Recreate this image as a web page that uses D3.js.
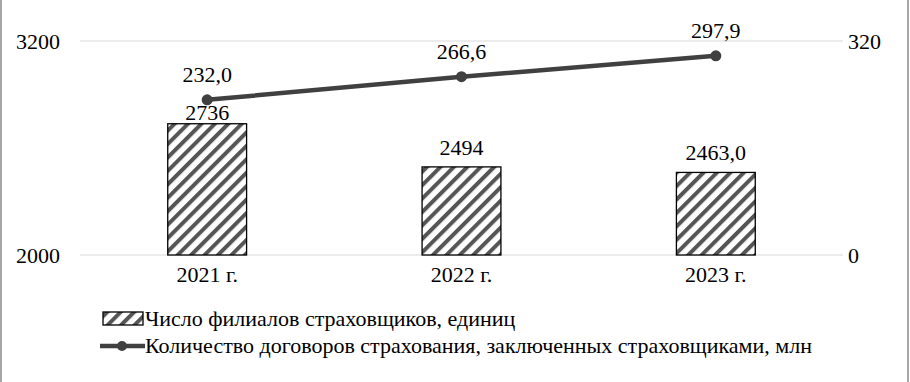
<!DOCTYPE html>
<html>
<head>
<meta charset="utf-8">
<script src="https://cdn.jsdelivr.net/npm/d3@7"></script>
<style>
  body { margin: 0; background: #fff; }
  svg { display: block; }
</style>
</head>
<body>
<div class="canvas"></div>
<script>
// data
const years = ['2021 г.', '2022 г.', '2023 г.'];
const branches = [2736, 2494, 2463.0];
const branchLabels = ['2736', '2494', '2463,0'];
const contracts = [232.0, 266.6, 297.9];
const contractLabels = ['232,0', '266,6', '297,9'];
const leftTicks = [2000, 3200];
const rightTicks = [0, 320];
const legendNames = [
  'Число филиалов страховщиков, единиц',
  'Количество договоров страхования, заключенных страховщиками, млн',
];

const dims = {
  width: 910,
  height: 382,
  left: 80,
  right: 843,
  top: 41,
  bottom: 255,
  fontFamily: '"Liberation Serif", "Times New Roman", serif',
  fontSize: '22px',
};

const svg = d3
  .select('.canvas')
  .append('svg')
  .attr('width', dims.width)
  .attr('height', dims.height);

// hatch pattern
const defs = svg.append('defs');
const pattern = defs
  .append('pattern')
  .attr('id', 'hatch')
  .attr('patternUnits', 'userSpaceOnUse')
  .attr('width', 9.5)
  .attr('height', 9.5)
  .attr('patternTransform', 'rotate(45)');
pattern.append('rect').attr('width', 9.5).attr('height', 9.5).attr('fill', '#fff');
pattern
  .append('rect')
  .attr('x', 0)
  .attr('y', 0)
  .attr('width', 4)
  .attr('height', 9.5)
  .attr('fill', '#555');

// outer frame (left and right)
svg.append('line').attr('x1', 1).attr('x2', 1).attr('y1', 0).attr('y2', dims.height)
  .attr('stroke', '#888').attr('stroke-width', 1.5);
svg.append('line').attr('x1', 908).attr('x2', 908).attr('y1', 0).attr('y2', dims.height)
  .attr('stroke', '#888').attr('stroke-width', 1.5);

// scales
const x = d3
  .scaleBand()
  .domain(years)
  .range([dims.left, dims.right])
  .paddingInner(0.69)
  .paddingOuter(0.345);

const yLeft = d3.scaleLinear().domain([2000, 3200]).range([dims.bottom, dims.top]);
const yRight = d3.scaleLinear().domain([0, 320]).range([dims.bottom, dims.top]);

const cx = (d) => x(d) + x.bandwidth() / 2;

// gridlines
svg
  .append('g')
  .selectAll('line')
  .data(leftTicks)
  .join('line')
  .attr('x1', dims.left)
  .attr('x2', dims.right)
  .attr('y1', (d) => yLeft(d))
  .attr('y2', (d) => yLeft(d))
  .attr('stroke', '#d9d9d9')
  .attr('stroke-width', 1.2);

// axes
const leftAxis = svg
  .append('g')
  .attr('transform', `translate(${dims.left - 20}, 0)`)
  .call(d3.axisLeft(yLeft).tickValues(leftTicks).tickFormat(d3.format('d')).tickSize(0).tickPadding(0));

const rightAxis = svg
  .append('g')
  .attr('transform', `translate(${dims.right + 5}, 0)`)
  .call(d3.axisRight(yRight).tickValues(rightTicks).tickFormat(d3.format('d')).tickSize(0).tickPadding(0));

const bottomAxis = svg
  .append('g')
  .attr('transform', `translate(0, ${dims.bottom})`)
  .call(d3.axisBottom(x).tickSize(0).tickPadding(11));

[leftAxis, rightAxis, bottomAxis].forEach((g) => {
  g.attr('font-family', dims.fontFamily).attr('font-size', dims.fontSize);
  g.select('path.domain').remove();
  g.selectAll('text').attr('fill', '#000');
});

// bars
svg
  .append('g')
  .selectAll('rect')
  .data(branches)
  .join('rect')
  .attr('x', (d, i) => x(years[i]))
  .attr('width', x.bandwidth())
  .attr('y', (d) => yLeft(d))
  .attr('height', (d) => dims.bottom - yLeft(d))
  .attr('fill', 'url(#hatch)')
  .attr('stroke', '#000')
  .attr('stroke-width', 1.3);

// line
const line = d3
  .line()
  .x((d, i) => cx(years[i]))
  .y((d) => yRight(d));

svg
  .append('path')
  .datum(contracts)
  .attr('d', line)
  .attr('fill', 'none')
  .attr('stroke', '#404040')
  .attr('stroke-width', 4.5);

svg
  .append('g')
  .selectAll('circle')
  .data(contracts)
  .join('circle')
  .attr('cx', (d, i) => cx(years[i]))
  .attr('cy', (d) => yRight(d))
  .attr('r', 5.5)
  .attr('fill', '#404040');

// data labels
const labelText = (sel) =>
  sel
    .attr('text-anchor', 'middle')
    .attr('font-family', dims.fontFamily)
    .attr('font-size', dims.fontSize)
    .attr('fill', '#000');

svg
  .append('g')
  .selectAll('text')
  .data(branches)
  .join('text')
  .attr('x', (d, i) => cx(years[i]))
  .attr('y', (d, i) => {
    // push the label down when it would hit the line marker
    const top = yLeft(d);
    return top - yRight(contracts[i]) < 40 ? top - 4 : top - 12;
  })
  .text((d, i) => branchLabels[i])
  .call(labelText);

svg
  .append('g')
  .selectAll('text')
  .data(contracts)
  .join('text')
  .attr('x', (d, i) => cx(years[i]))
  .attr('y', (d) => yRight(d) - 18)
  .text((d, i) => contractLabels[i])
  .call(labelText);

// legend
const legend = svg.append('g');

legend
  .append('rect')
  .attr('x', 103)
  .attr('y', 312)
  .attr('width', 40)
  .attr('height', 13)
  .attr('fill', 'url(#hatch)')
  .attr('stroke', '#000')
  .attr('stroke-width', 1.3);

legend
  .append('line')
  .attr('x1', 100)
  .attr('x2', 145)
  .attr('y1', 346)
  .attr('y2', 346)
  .attr('stroke', '#404040')
  .attr('stroke-width', 4.5);

legend
  .append('circle')
  .attr('cx', 122)
  .attr('cy', 346)
  .attr('r', 5)
  .attr('fill', '#404040');

legend
  .selectAll('text')
  .data(legendNames)
  .join('text')
  .attr('x', 145)
  .attr('y', (d, i) => 326 + i * 27)
  .text((d) => d)
  .attr('font-family', dims.fontFamily)
  .attr('font-size', dims.fontSize)
  .attr('fill', '#000');
</script>
</body>
</html>
